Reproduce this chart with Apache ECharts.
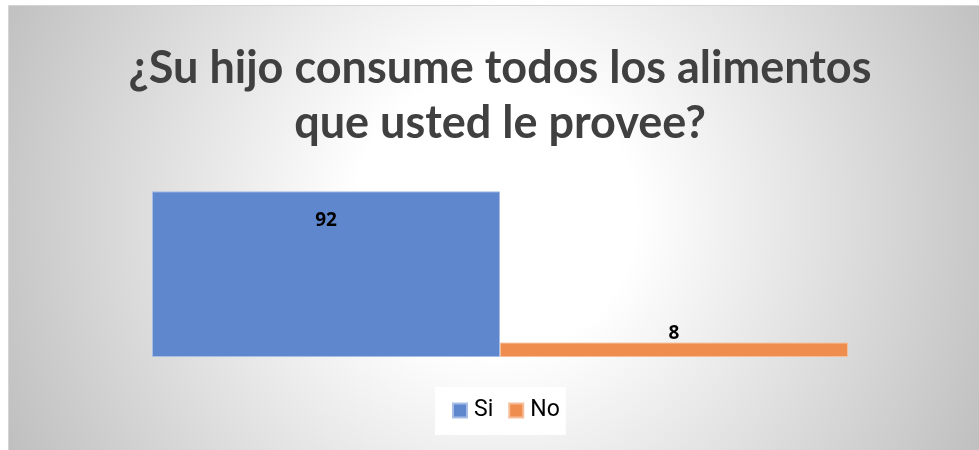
<!DOCTYPE html>
<html>
<head>
<meta charset="utf-8">
<script src="https://cdn.jsdelivr.net/npm/echarts@6/dist/echarts.min.js"></script>
<style>
html,body{margin:0;padding:0;background:#fff;}
#chart{width:979px;height:450px;}
</style>
</head>
<body>
<div id="chart"></div>
<script>
var titleLines = ['¿Su hijo consume todos los alimentos', 'que usted le provee?'];
var categories = [''];
var seriesNames = ['Si', 'No'];
var siValues = [92];
var noValues = [8];
var colors = ['#5f87cd', '#ef8d4e'];

var chart = echarts.init(document.getElementById('chart'));
chart.setOption({
  animation: false,
  graphic: [{
    type: 'rect',
    z: -10,
    silent: true,
    shape: {x: 8.5, y: 5.5, width: 975, height: 450},
    style: {
      fill: {
        type: 'radial', x: 495, y: 215, r: 560, global: true,
        colorStops: [
          {offset: 0, color: '#ffffff'},
          {offset: 0.25, color: '#ffffff'},
          {offset: 1, color: '#bcbcbc'}
        ]
      },
      stroke: '#d4d4d4',
      lineWidth: 1
    }
  }],
  title: {
    text: titleLines.join('\n'),
    left: 500,
    textAlign: 'center',
    top: 41,
    padding: 0,
    textStyle: {
      fontFamily: 'Lato',
      fontWeight: 'bold',
      fontSize: 45,
      lineHeight: 55,
      color: '#404040'
    }
  },
  legend: {
    data: seriesNames,
    left: 435,
    top: 387,
    backgroundColor: '#ffffff',
    padding: [12, 6, 13, 17],
    itemWidth: 14,
    itemHeight: 14,
    itemGap: 15,
    icon: 'rect',
    textStyle: {fontFamily: 'Roboto', fontSize: 23, color: '#000', padding: [0, 0, 0, 2]}
  },
  grid: {left: 152, right: 131, top: 177, bottom: 93},
  xAxis: {
    type: 'category',
    data: categories,
    show: false
  },
  yAxis: {
    type: 'value',
    min: 0,
    max: 100,
    show: false
  },
  series: [{
    name: seriesNames[0],
    type: 'bar',
    data: siValues,
    barGap: '0%',
    barCategoryGap: '0%',
    itemStyle: {color: colors[0], borderColor: '#a8bde5', borderWidth: 1},
    label: {show: true, position: 'insideTop', distance: 20, fontFamily: 'Open Sans', fontWeight: 'bold', fontSize: 19, color: '#000'}
  }, {
    name: seriesNames[1],
    type: 'bar',
    data: noValues,
    barGap: '0%',
    barCategoryGap: '0%',
    itemStyle: {color: colors[1], borderColor: '#f5bd98', borderWidth: 1},
    label: {show: true, position: 'top', distance: 0, fontFamily: 'Open Sans', fontWeight: 'bold', fontSize: 19, color: '#000'}
  }]
});
</script>
</body>
</html>
